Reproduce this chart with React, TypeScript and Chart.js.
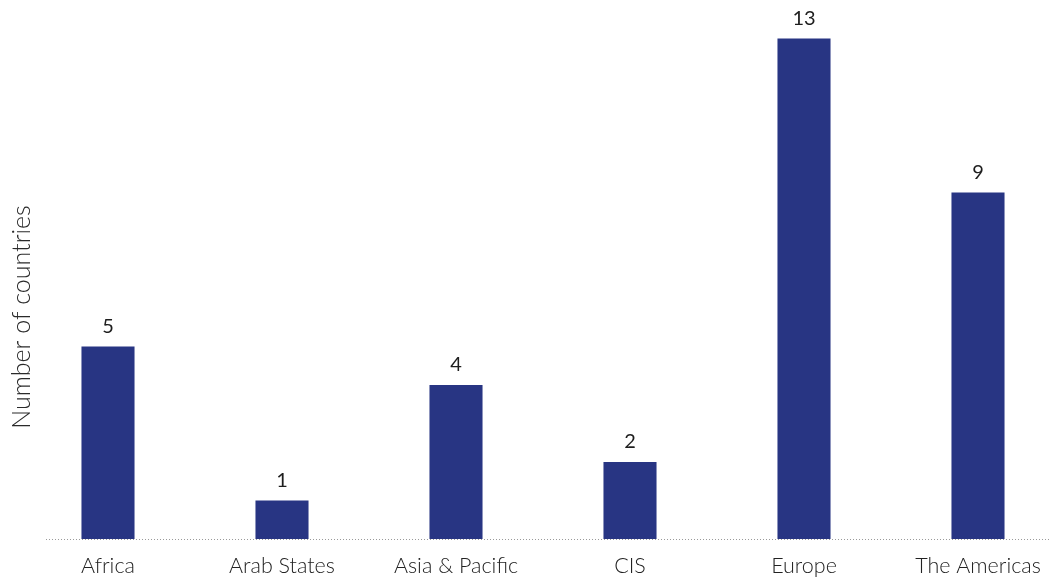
import React, { useEffect, useRef } from "react";
import { Chart, registerables } from "chart.js";

Chart.register(...registerables);

const categories: string[] = ["Africa", "Arab States", "Asia & Pacific", "CIS", "Europe", "The Americas"];
const countries: number[] = [5, 1, 4, 2, 13, 9];
const yAxisTitle = "Number of countries";

const FONT = "Lato, 'Open Sans', sans-serif";

const labelPlugin = {
  id: "valueLabels",
  afterDatasetsDraw(chart: any) {
    const ctx = chart.ctx;
    const meta = chart.getDatasetMeta(0);
    ctx.save();
    ctx.font = `400 20px ${FONT}`;
    ctx.fillStyle = "#1e1e1e";
    ctx.textAlign = "center";
    ctx.textBaseline = "bottom";
    meta.data.forEach((bar: any, i: number) => {
      ctx.fillText(String(countries[i]), bar.x, bar.y - 10);
    });
    ctx.restore();
  },
};

const decorPlugin = {
  id: "decor",
  beforeDatasetsDraw(chart: any) {
    const ctx = chart.ctx;
    const area = chart.chartArea;
    ctx.save();
    ctx.strokeStyle = "#9a9a9a";
    ctx.lineWidth = 1;
    ctx.setLineDash([1, 2]);
    ctx.beginPath();
    ctx.moveTo(area.left + 25, area.bottom + 0.5);
    ctx.lineTo(chart.width, area.bottom + 0.5);
    ctx.stroke();
    ctx.restore();
  },
  afterDraw(chart: any) {
    const ctx = chart.ctx;
    ctx.save();
    ctx.translate(22, 317);
    ctx.rotate(-Math.PI / 2);
    ctx.font = `300 25px ${FONT}`;
    ctx.fillStyle = "#2a2a2a";
    ctx.textAlign = "center";
    ctx.textBaseline = "middle";
    ctx.fillText(yAxisTitle, 0, 0);
    ctx.restore();
  },
};

export default function App() {
  const ref = useRef<HTMLCanvasElement | null>(null);
  useEffect(() => {
    if (!ref.current) return;
    const chart = new Chart(ref.current, {
      type: "bar",
      data: {
        labels: categories,
        datasets: [
          {
            data: countries,
            backgroundColor: "#283583",
            barPercentage: 0.305,
            categoryPercentage: 1,
          },
        ],
      },
      options: {
        responsive: false,
        animation: false,
        layout: { padding: { left: 21, right: 15, top: 0, bottom: 0 } },
        plugins: { legend: { display: false }, tooltip: { enabled: false } },
        scales: {
          y: { display: false, min: 0, max: 14 },
          x: {
            grid: { display: false, drawTicks: false },
            border: { display: false },
            ticks: { color: "#222222", font: { family: FONT, size: 21.5, weight: 300 }, padding: 14, maxRotation: 0, autoSkip: false },
            afterFit: (s: any) => {
              s.height = 40;
            },
          },
        },
      },
      plugins: [labelPlugin, decorPlugin],
    });
    return () => chart.destroy();
  }, []);
  return (
    <div style={{ position: "fixed", left: 0, top: 0, width: 1049, height: 579, overflow: "hidden", background: "#ffffff" }}>
      <canvas ref={ref} width={1080} height={579} style={{ display: "block" }} />
    </div>
  );
}
